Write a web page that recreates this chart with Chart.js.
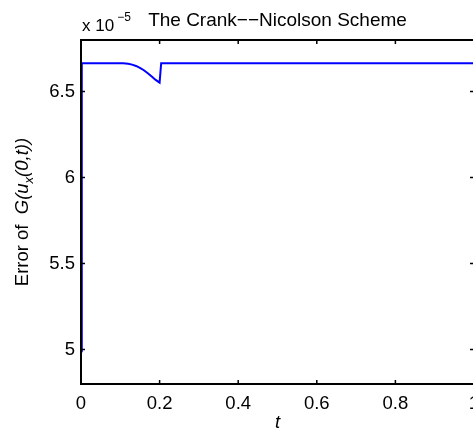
<!DOCTYPE html>
<html>
<head>
<meta charset="utf-8">
<script src="https://cdn.jsdelivr.net/npm/chart.js@4.4.1/dist/chart.umd.min.js"></script>
<style>
  html, body { margin: 0; padding: 0; background: #fff; overflow: hidden; }
  #wrap { width: 480px; height: 430px; }
</style>
</head>
<body>
<div id="wrap"><canvas id="chart" width="480" height="430"></canvas></div>
<script>
// values are in units of 1e-5 (axis multiplier shown as "x 10^-5")
const tValues = [0, 0.002, 0.1, 0.107, 0.12, 0.13, 0.14, 0.15, 0.16, 0.17, 0.18, 0.19, 0.2, 0.204, 1];
const errValues = [4.99, 6.665, 6.665, 6.665, 6.662, 6.657, 6.649, 6.638, 6.624, 6.607, 6.588, 6.568, 6.552, 6.665, 6.665];
const xTicks = [0, 0.2, 0.4, 0.6, 0.8, 1];
const yTicks = [5, 5.5, 6, 6.5];

const FONT = "'Liberation Sans', Arial, Helvetica, sans-serif";

// MATLAB-style box with inner ticks plus titles and labels
const matlabAxes = {
  id: "matlabAxes",
  afterDraw(chart) {
    const ctx = chart.ctx;
    const a = chart.chartArea;
    const xs = chart.scales.x;
    const ys = chart.scales.y;
    ctx.save();
    ctx.strokeStyle = "#000";
    ctx.lineWidth = 2;
    ctx.strokeRect(a.left, a.top, a.right - a.left, a.bottom - a.top);
    ctx.lineWidth = 1.5;
    ctx.beginPath();
    xTicks.forEach((v) => {
      const px = xs.getPixelForValue(v);
      ctx.moveTo(px, a.bottom); ctx.lineTo(px, a.bottom - 4);
      ctx.moveTo(px, a.top); ctx.lineTo(px, a.top + 4);
    });
    yTicks.forEach((v) => {
      const py = ys.getPixelForValue(v);
      ctx.moveTo(a.left, py); ctx.lineTo(a.left + 4, py);
      ctx.moveTo(a.right, py); ctx.lineTo(a.right - 4, py);
    });
    ctx.stroke();

    ctx.fillStyle = "#000";
    // title
    ctx.font = "19px " + FONT;
    ctx.textAlign = "center";
    ctx.textBaseline = "alphabetic";
    ctx.fillText("The Crank\u2212\u2212Nicolson Scheme", (a.left + a.right) / 2, 26);
    // exponent multiplier
    ctx.textAlign = "left";
    ctx.font = "17px " + FONT;
    ctx.fillText("x 10", a.left + 1, 31);
    const w10 = ctx.measureText("x 10").width;
    ctx.font = "12px " + FONT;
    ctx.fillText("\u22125", a.left + 1 + w10 + 3, 21);
    // x label
    ctx.font = "italic 18.5px " + FONT;
    ctx.textAlign = "center";
    ctx.fillText("t", (a.left + a.right) / 2, 428);

    // y label (rotated)
    const parts = [
      { s: "Error of  ", f: "18.5px " + FONT, dy: 0 },
      { s: "G(u", f: "italic 18.5px " + FONT, dy: 0 },
      { s: "x", f: "italic 13px " + FONT, dy: 5 },
      { s: "(0,t))", f: "italic 18.5px " + FONT, dy: 0 },
    ];
    let total = 0;
    parts.forEach((p) => { ctx.font = p.f; p.w = ctx.measureText(p.s).width; total += p.w; });
    ctx.translate(28, (a.top + a.bottom) / 2);
    ctx.rotate(-Math.PI / 2);
    ctx.textAlign = "left";
    let x0 = -total / 2;
    parts.forEach((p) => { ctx.font = p.f; ctx.fillText(p.s, x0, p.dy); x0 += p.w; });
    ctx.restore();
  },
};

const points = tValues.map((t, i) => ({ x: t, y: errValues[i] }));

new Chart(document.getElementById("chart"), {
  type: "line",
  data: {
    datasets: [
      {
        data: points,
        borderColor: "#0000ff",
        borderWidth: 2,
        pointRadius: 0,
        tension: 0,
        fill: false,
      },
    ],
  },
  options: {
    responsive: false,
    animation: false,
    devicePixelRatio: 1,
    layout: { padding: { left: 0, right: 6, top: 40, bottom: 0 } },
    plugins: { legend: { display: false }, tooltip: { enabled: false } },
    scales: {
      x: {
        type: "linear",
        min: 0,
        max: 1,
        afterBuildTicks: (s) => { s.ticks = xTicks.map((v) => ({ value: v })); },
        afterFit: (s) => { s.height = 46; s.paddingLeft = 0; s.paddingRight = 0; },
        grid: { display: false, drawTicks: false },
        border: { display: false },
        ticks: {
          color: "#000",
          font: { family: FONT, size: 18.5 },
          padding: 9,
          maxRotation: 0,
          autoSkip: false,
          callback: (v) => String(v),
        },
      },
      y: {
        type: "linear",
        min: 4.8,
        max: 6.8,
        afterBuildTicks: (s) => { s.ticks = yTicks.map((v) => ({ value: v })); },
        afterFit: (s) => { s.width = 81; s.paddingTop = 0; s.paddingBottom = 0; },
        grid: { display: false, drawTicks: false },
        border: { display: false },
        ticks: {
          color: "#000",
          font: { family: FONT, size: 18.5 },
          padding: 6,
          autoSkip: false,
          callback: (v) => String(v),
        },
      },
    },
  },
  plugins: [matlabAxes],
});
</script>
</body>
</html>
